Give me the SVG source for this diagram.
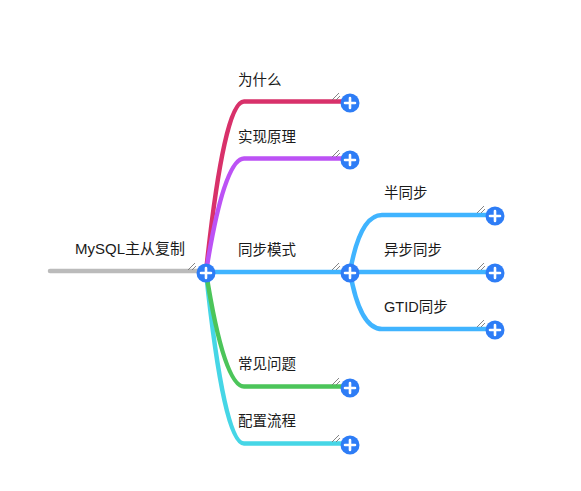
<svg xmlns="http://www.w3.org/2000/svg" width="581" height="491" viewBox="0 0 581 491">
<defs>
<style>
.lbl{font-family:"Liberation Sans","Noto Sans CJK SC",sans-serif;font-size:14.5px;fill:#1a1a1a}
.rootlbl{font-size:15px}
.br{fill:none;stroke-width:4.5;stroke-linecap:round;stroke-linejoin:round}
.btn{fill:#2E7DF6}
.plus{stroke:#fff;stroke-width:2.6;stroke-linecap:round}
.grip{stroke:#777;stroke-width:0.9}
</style>
<g id="expand">
<circle class="btn" r="9.5"/>
<path class="plus" d="M-5,0H5M0,-5V5"/>
</g>
<g id="resize">
<path class="grip" d="M-18,-3L-11,-10M-14,-3L-10,-7"/>
</g>
</defs>
<rect width="581" height="491" fill="#fff"/>
<g id="connectors">
<path class="br" stroke="#BBBBBB" d="M50,271H200"/>
<path class="br" stroke="#D8316A" d="M206,272Q224,101.5 244,101.5H350"/>
<path class="br" stroke="#BC52F5" d="M206,272Q224,158.5 244,158.5H350"/>
<path class="br" stroke="#46D6E6" d="M206,272Q224,443.5 244,443.5H350"/>
<path class="br" stroke="#4CC55A" d="M206,272Q224,386.5 244,386.5H350"/>
<path class="br" stroke="#40B4FF" d="M206,272H350"/>
<path class="br" stroke="#40B4FF" d="M350,272Q360,215 382,215H495"/>
<path class="br" stroke="#40B4FF" d="M350,272H495"/>
<path class="br" stroke="#40B4FF" d="M350,272Q360,329 382,329H495"/>
</g>
<g id="root">
<text class="lbl rootlbl" x="75" y="254">MySQL主从复制</text>
<use href="#resize" x="206" y="273"/>
<use href="#expand" x="206" y="273"/>
</g>
<g id="n1">
<text class="lbl" x="238" y="84.5">为什么</text>
<use href="#resize" x="350" y="103"/>
<use href="#expand" x="350" y="103"/>
</g>
<g id="n2">
<text class="lbl" x="238" y="141.5">实现原理</text>
<use href="#resize" x="350" y="160"/>
<use href="#expand" x="350" y="160"/>
</g>
<g id="n3">
<text class="lbl" x="238" y="254.5">同步模式</text>
<use href="#resize" x="350" y="273"/>
<use href="#expand" x="350" y="273"/>
</g>
<g id="n4">
<text class="lbl" x="238" y="368.5">常见问题</text>
<use href="#resize" x="350" y="388"/>
<use href="#expand" x="350" y="388"/>
</g>
<g id="n5">
<text class="lbl" x="238" y="425.5">配置流程</text>
<use href="#resize" x="350" y="445"/>
<use href="#expand" x="350" y="445"/>
</g>
<g id="n31">
<text class="lbl" x="384" y="197.5">半同步</text>
<use href="#resize" x="495" y="216"/>
<use href="#expand" x="495" y="216"/>
</g>
<g id="n32">
<text class="lbl" x="384" y="254.5">异步同步</text>
<use href="#resize" x="495" y="273"/>
<use href="#expand" x="495" y="273"/>
</g>
<g id="n33">
<text class="lbl" x="384" y="311.5">GTID同步</text>
<use href="#resize" x="495" y="330"/>
<use href="#expand" x="495" y="330"/>
</g>
</svg>
